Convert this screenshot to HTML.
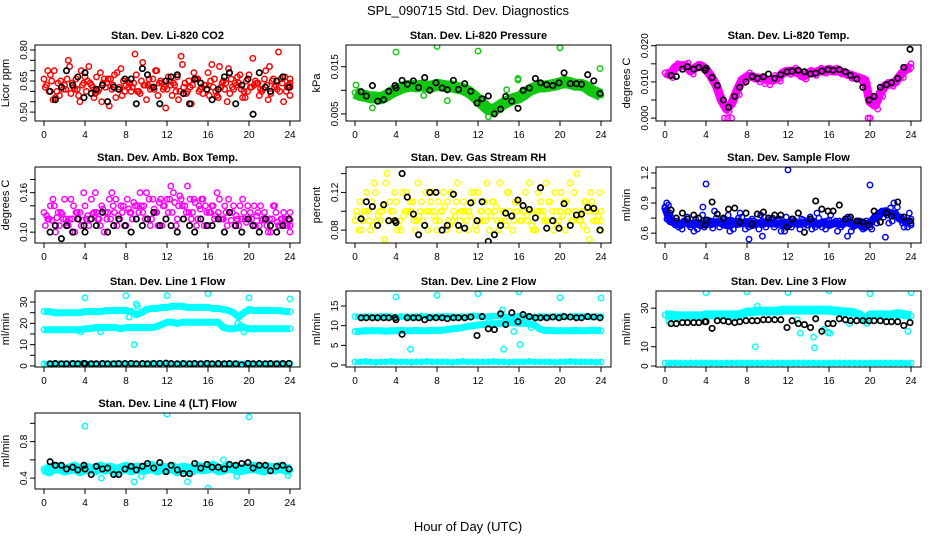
<!DOCTYPE html>
<html><head><meta charset="utf-8">
<style>
html,body{margin:0;padding:0;background:#fff;}
svg{display:block;font-family:"Liberation Sans",sans-serif;}
</style></head>
<body>
<svg id="chart" width="936" height="540" viewBox="0 0 936 540">
<text x="468" y="15" text-anchor="middle" font-size="13">SPL_090715  Std. Dev. Diagnostics</text>
<text x="468" y="531" text-anchor="middle" font-size="13">Hour of Day (UTC)</text>
</svg>
<script>
const xTicks=[0,4,8,12,16,20,24];
const bh=[0.6,1.1,1.7,2.2,2.8,3.3,3.9,4.0,4.6,5.1,5.7,6.2,6.8,7.3,7.9,8.5,9.0,9.6,10.1,10.7,11.3,11.9,12.4,13.0,13.6,14.2,14.7,15.3,15.9,16.4,17.0,17.6,18.1,18.7,19.3,19.9,20.4,21.0,21.6,22.1,22.7,23.3,23.9];
// P1 CO2
const co2A=[.66,.60,.70,.58,.63,.72,.61,.55,.67,.64,.59,.69,.62,.66,.57,.71,.63,.60,.68,.65,.56,.62,.70,.64,.61,.58,.67,.73,.60,.63,.66,.59,.69,.62,.57,.65,.71,.61,.64,.60,.68,.63,.58,.66,.72,.62,.60,.67,.64];
const co2B=[.62,.68,.57,.65,.61,.59,.66,.70,.60,.63,.67,.55,.64,.61,.69,.58,.65,.62,.60,.74,.63,.66,.58,.61,.67,.64,.56,.62,.65,.69,.60,.63,.58,.66,.72,.61,.59,.64,.68,.57,.62,.65,.61,.70,.59,.63,.66,.60,.62];
const co2C=[.70,.56,.64,.61,.75,.62,.58,.64,.72,.57,.61,.66,.53,.68,.62,.60,.64,.78,.59,.63,.61,.70,.65,.52,.63,.60,.77,.59,.54,.66,.62,.61,.73,.58,.64,.55,.62,.67,.57,.60,.76,.64,.61,.56,.66,.79,.55,.63,.58];
const co2D=[.63,.65,.60,.62,.66,.64,.61,.63,.65,.62,.60,.64,.66,.63,.61,.65,.62,.64,.60,.63,.66,.61,.64,.62,.65,.63,.60,.64,.62,.66,.61,.63,.65,.60,.62,.64,.66,.63,.61,.65,.62,.64,.60,.63,.65,.61,.64,.62,.66];
const co2Black=[.60,.56,.62,.70,.63,.67,.57,.69,.59,.61,.63,.55,.62,.61,.66,.66,.54,.71,.68,.62,.54,.65,.67,.68,.59,.54,.66,.64,.61,.56,.61,.67,.69,.54,.63,.66,.49,.69,.62,.60,.65,.67,.62];
// P2 pressure
const presTrend=[.0095,.0090,.0088,.0085,.0085,.0083,.0088,.0095,.0100,.0105,.0108,.0110,.0108,.0110,.0108,.0108,.0112,.0110,.0108,.0108,.0105,.0103,.0098,.0090,.0080,.0070,.0060,.0058,.0065,.0072,.0078,.0082,.0085,.0092,.0100,.0105,.0108,.0108,.0110,.0112,.0115,.0118,.0115,.0112,.0112,.0108,.0100,.0095,.0090];
const presOutX=[0.1,4.0,8.0,12.0,15.9,15.9,20.0,23.9,1.7,9.0,6.7,13.0,14.8];
const presOutY=[.0111,.0181,.0193,.0183,.0125,.0122,.0190,.0146,.0063,.0078,.0089,.0044,.0101];
const presBlack=[.0097,.0088,.0110,.0077,.0080,.0098,.0110,.0105,.0121,.0113,.0120,.0106,.0127,.0100,.0116,.0105,.0101,.0121,.0102,.0114,.0098,.0073,.0082,.0088,.0050,.0060,.0087,.0077,.0062,.0100,.0105,.0125,.0116,.0112,.0110,.0116,.0137,.0114,.0114,.0113,.0133,.0120,.0093];
// P3 temp
const tempTrend=[.0125,.0120,.0140,.0145,.0145,.0130,.0140,.0145,.0135,.0115,.0090,.0050,.0025,.0040,.0075,.0105,.0115,.0115,.0110,.0110,.0105,.0105,.0110,.0125,.0130,.0130,.0125,.0115,.0125,.0125,.0130,.0130,.0135,.0130,.0130,.0125,.0120,.0115,.0110,.0105,.0045,.0035,.0070,.0090,.0095,.0100,.0120,.0135,.0140];
const tempScatter=[.0120,.0112,.0150,.0135,.0152,.0122,.0148,.0138,.0128,.0105,.0080,.0040,.0018,.0050,.0065,.0098,.0125,.0108,.0100,.0095,.0092,.0118,.0102,.0132,.0121,.0138,.0115,.0108,.0132,.0118,.0138,.0124,.0128,.0138,.0122,.0118,.0110,.0108,.0100,.0096,.0055,.0025,.0060,.0098,.0088,.0108,.0112,.0142,.0150];
const tempOutX=[5.8,6.1,6.5,19.8,20.0];
const tempOutY=[0,0,0,0,0];
const tempBlack=[.0118,.0115,.0135,.0142,.0135,.0140,.0132,.0138,.0112,.0090,.0050,.0030,.0060,.0085,.0100,.0115,.0110,.0114,.0122,.0110,.0120,.0128,.0130,.0132,.0128,.0122,.0124,.0130,.0134,.0132,.0134,.0128,.0118,.0108,.0085,.0050,.0060,.0085,.0092,.0098,.0110,.0140,.0190];
// P4 amb box temp
const ambA=[.13,.12,.14,.11,.15,.12,.10,.13,.14,.12,.16,.11,.13,.12,.15,.14,.11,.13,.12,.14,.16,.12,.13,.11,.15,.13,.12,.14,.17,.13,.12,.15,.11,.14,.13,.12,.15,.14,.11,.13,.12,.14,.11,.13,.12,.14,.11,.12,.13];
const ambB=[.11,.14,.10,.13,.12,.15,.13,.11,.12,.15,.13,.14,.12,.16,.11,.13,.15,.12,.14,.13,.12,.15,.11,.14,.13,.16,.14,.12,.13,.15,.14,.11,.13,.12,.15,.14,.13,.11,.14,.12,.13,.11,.14,.12,.10,.13,.12,.11,.10];
const ambC=[.12,.15,.13,.12,.11,.14,.12,.16,.11,.13,.12,.10,.15,.13,.12,.11,.13,.14,.16,.12,.11,.13,.15,.12,.17,.11,.15,.13,.12,.11,.15,.13,.14,.16,.12,.11,.13,.12,.15,.14,.11,.13,.12,.10,.14,.11,.13,.12,.11];
const ambD=[.125,.118,.122,.128,.115,.12,.13,.118,.125,.128,.12,.135,.13,.14,.125,.14,.135,.145,.13,.14,.15,.135,.145,.14,.15,.145,.155,.14,.15,.145,.135,.14,.13,.125,.12,.13,.118,.125,.12,.115,.12,.125,.118,.11,.12,.115,.12,.11,.118];
const ambBlack=[.10,.11,.09,.11,.10,.12,.11,.10,.12,.11,.13,.10,.11,.12,.11,.10,.12,.11,.12,.13,.11,.12,.11,.10,.12,.11,.10,.12,.11,.11,.12,.10,.13,.11,.10,.12,.11,.10,.12,.11,.10,.11,.12];
// P5 RH
const rhA=[.09,.11,.10,.08,.12,.09,.13,.10,.11,.08,.12,.10,.09,.11,.10,.12,.08,.10,.11,.09,.13,.10,.08,.11,.12,.09,.10,.11,.08,.10,.12,.09,.11,.10,.13,.08,.10,.09,.11,.12,.10,.08,.13,.10,.09,.11,.12,.09,.10];
const rhB=[.10,.08,.12,.11,.09,.10,.14,.09,.08,.12,.10,.11,.13,.09,.08,.10,.11,.12,.09,.10,.08,.11,.10,.12,.09,.11,.08,.10,.13,.09,.10,.11,.09,.12,.10,.08,.11,.13,.09,.10,.12,.11,.09,.14,.10,.08,.11,.09,.08];
const rhC=[.08,.10,.09,.13,.10,.07,.11,.12,.09,.10,.11,.08,.10,.12,.11,.09,.10,.08,.12,.11,.10,.09,.12,.08,.10,.13,.11,.09,.10,.12,.08,.11,.10,.09,.08,.12,.10,.11,.08,.09,.11,.10,.12,.09,.11,.07,.10,.12,.09];
const rhD=[.095,.09,.1,.085,.095,.105,.09,.1,.085,.095,.1,.09,.095,.085,.1,.095,.09,.105,.085,.095,.09,.1,.095,.085,.1,.09,.095,.105,.09,.085,.095,.1,.09,.095,.085,.1,.095,.09,.1,.085,.095,.1,.09,.095,.085,.1,.09,.095,.1];
const rhBlack=[.092,.110,.105,.085,.107,.090,.090,.088,.140,.115,.097,.075,.085,.120,.120,.080,.085,.118,.085,.082,.109,.090,.110,.068,.075,.085,.098,.095,.112,.106,.102,.093,.125,.082,.090,.082,.108,.085,.096,.097,.104,.103,.080];
// P6 sample flow
const sfA=[.85,.80,.68,.70,.72,.66,.74,.70,.68,.72,.75,.70,.73,.68,.72,.76,.70,.74,.69,.72,.70,.75,.72,.68,.71,.74,.70,.73,.68,.72,.75,.70,.73,.69,.72,.70,.74,.68,.72,.70,.66,.74,.78,.82,.85,.80,.76,.72,.74];
const sfB=[.90,.75,.72,.64,.76,.70,.64,.78,.73,.65,.70,.68,.78,.64,.75,.70,.66,.72,.64,.76,.69,.66,.74,.62,.68,.72,.64,.70,.76,.66,.70,.64,.78,.72,.66,.74,.62,.70,.66,.72,.64,.70,.82,.78,.72,.86,.70,.66,.70];
const sfC=[.88,.70,.66,.72,.68,.62,.70,.66,.72,.82,.66,.74,.62,.70,.80,.64,.72,.68,.78,.66,.74,.70,.62,.76,.66,.70,.74,.68,.64,.80,.66,.72,.70,.62,.68,.76,.66,.72,.64,.70,.74,.80,.76,.70,.90,.74,.66,.80,.68];
const sfD=[.86,.72,.7,.68,.71,.69,.7,.68,.7,.69,.71,.7,.68,.72,.69,.7,.71,.68,.7,.69,.71,.7,.69,.7,.68,.71,.69,.7,.72,.7,.69,.71,.68,.7,.69,.71,.7,.68,.7,.66,.7,.76,.8,.82,.8,.78,.74,.72,.7];
const sfOutX=[4.0,12.0,20.0,8.2,9.5,17.8,21.5,0.2,3.7];
const sfOutY=[1.09,1.23,1.08,.54,.57,.57,.56,.74,.86];
const sfBlack=[.83,.75,.80,.74,.78,.75,.68,.73,.91,.79,.75,.84,.85,.71,.80,.69,.79,.81,.75,.78,.78,.66,.74,.80,.61,.74,.92,.84,.82,.82,.88,.74,.76,.72,.71,.68,.82,.71,.80,.77,.91,.76,.72];
// P7 line 1
const l1Upper=[25.5,25.5,25,25,25,25,25,25,25.5,25.5,25.5,25.5,26,26,26,26,26,25.5,24,25,26.5,27,27,27.5,27.5,28,28,28,27.5,27.5,27.5,27.5,27.5,27,27,26.5,26,25,23,25,26.5,26,26,26,26,26,26,25.5,25.5];
const l1Lower=[17,17,17,17,17,17,17,17,17.5,17.5,18,18,18,18,18,17.5,18,18,18,18,18,18,18.5,19.5,20.5,20.5,20,20.5,20.5,20.5,20.5,20.5,20.5,20.5,20.5,18,17.5,17.5,18,18,17.5,17.5,17.5,17.5,17.5,17.5,17.5,17.5,17.5];
const l1Zero=[1,1,1.1,1,0.9,1,1,1.1,1,1,1,0.9,1,1,1.1,1,1,1,1,0.9,1,1.1,1,1,1,1,1,1.1,1,1,0.9,1,1,1,1.1,1,1,1,1,0.9,1,1,1.1,1,1,1,1,0.9,1];
const l1OutX=[4,8,12,16,20,24,8.8,9.0,9.1,5.5,3.6,18.9,19.2,19.5,8.3,19.0];
const l1OutY=[32,33,33,34,32,31.5,10,29,28,16,16,20,19,16,23,23];
const l1Black=[1,1.1,1,1,1.1,1,1.2,1.1,1,1,1.1,1,1,1.1,1.1,1.2,1,1.1,1,1.1,1.2,1.3,1.1,1,1.1,1,1.1,1,1.2,1,1.1,1,1.1,1,0.5,1.2,1,1.1,1,1.1,1,1.1,1.2];
// P8 line 2
const l2Upper=[12.3,12.2,12.3,12.3,12.2,12.3,12.4,12.3,12.2,12.3,12.3,12.2,12.3,12.4,12.3,12.2,12.3,12.3,12.4,12.3,12.2,12.3,12.3,12.5,12.4,12.3,12.3,12.4,12.5,12.3,12.2,12.3,12.4,12.3,12.3,12.2,12.3,12.3,12.2,12.3,12.3,12.2,12.3,12.4,12.3,12.3,12.2,12.3,12.3];
const l2Mid=[8.5,8.6,8.7,8.7,8.7,8.7,8.6,8.7,8.7,8.8,8.7,8.7,8.8,8.7,8.7,8.8,8.8,8.8,9,9.2,9.3,9.5,9.8,10,10.2,10.3,10.4,10.5,10.5,10.6,10.7,10.7,10.6,10.6,10.5,10.2,9.2,8.8,8.8,8.7,8.7,8.7,8.7,8.8,8.7,8.7,8.8,8.8,8.7];
const l2Zero=[0.8,0.8,0.9,0.8,0.7,0.8,0.8,0.9,0.8,0.8,0.8,0.7,0.8,0.8,0.9,0.8,0.8,0.8,0.8,0.7,0.8,0.9,0.8,0.8,0.8,0.8,0.8,0.9,0.8,0.8,0.7,0.8,0.8,0.8,0.9,0.8,0.8,0.8,0.8,0.7,0.8,0.8,0.9,0.8,0.8,0.8,0.8,0.7,0.8];
const l2OutX=[4,8,12,16,20,24,5.4,14.5,14.4,16.1,13.1,15.5,17.2];
const l2OutY=[17.3,17.7,18.1,18.6,17.1,17,4,4,14,5.2,11,8.5,9.5];
const l2Black=[12,12,12,12,12,12,12,11.5,7.8,12,12,12,11.5,12,12,12,11.8,12,12,12,12.2,7.5,12.3,9.2,9.0,13,10.3,13.3,11,12.8,12.3,12,12,12,12.2,12,12.3,12.2,12,12,12.3,12.2,12];
// P9 line 3
const l3Upper=[26.5,26.5,26,26,26,26,26,26,26.5,26.5,26.5,26.5,26.5,26.5,26.5,27,28,28,28.5,28.5,28.5,28.5,28.5,29,29,29,29,29,29,29,29,29,29,28.5,28.5,28,28,27.5,26.5,24,26.5,26.5,26.5,26.5,26.5,27,27,26.5,26];
const l3Zero=[1.5,1.5,1.6,1.5,1.4,1.5,1.5,1.6,1.5,1.5,1.5,1.4,1.5,1.5,1.6,1.5,1.5,1.5,1.5,1.4,1.5,1.6,1.5,1.5,1.5,1.5,1.5,1.6,1.5,1.5,1.4,1.5,1.5,1.5,1.6,1.5,1.5,1.5,1.5,1.4,1.5,1.5,1.6,1.5,1.5,1.5,1.5,1.4,1.5];
const l3OutX=[4,8,12,16,20,24,8.8,9.0,14.5,14.6,13.2,15.9,16.1,18,23.7,15.5,12.9,0.4,19.7];
const l3OutY=[38,38.5,38,39,37.5,38,10,31,15,9.5,17,17.5,17,22,18,19,24,23,22];
const l3Black=[22,22,22.5,22.5,22.5,22.5,23,23,19.5,23.5,23.5,23,22.5,23,23.5,23.5,23.5,24,24,24,24,20,23.5,22,21.5,20,24.5,18,22,22,24.5,24,23.5,23.5,23.5,23.5,23.5,23.5,23,23,23,21,22.5];
// P10 line 4
const l4Band=[.50,.48,.52,.51,.49,.50,.52,.48,.51,.50,.49,.52,.50,.51,.48,.50,.52,.49,.51,.50,.50,.53,.49,.51,.50,.52,.48,.51,.50,.49,.52,.50,.51,.53,.49,.50,.52,.51,.49,.50,.51,.52,.50,.49,.51,.50,.52,.50,.49];
const l4OutX=[4,12,20,16,5.6,8.8,14,0.1,9.5,17.5,18.8,23.8];
const l4OutY=[.97,1.1,1.07,.29,.40,.36,.36,.48,.42,.60,.42,.43];
const l4Black=[.58,.54,.54,.50,.52,.49,.54,.50,.44,.53,.50,.51,.44,.44,.50,.53,.49,.53,.56,.51,.57,.47,.54,.49,.45,.45,.56,.51,.55,.52,.52,.50,.55,.54,.56,.57,.51,.54,.54,.48,.53,.54,.50];

const RED='#ff0000',GRN='#10c810',MAG='#ff00ff',YEL='#ffff00',BLU='#0000ff',CYN='#00ffff',BLK='#000000';
const panels=[
 {name:'co2',title:'Stan. Dev. Li-820 CO2',ylab:'Licor ppm',col:0,row:0,ymin:0.457,ymax:0.824,
  ticks:[.50,.55,.60,.65,.70,.75,.80],labels:{'0.5':'0.50','0.65':'0.65','0.8':'0.80'},
  series:[{y:co2D,c:RED,off:0.5},{y:co2A,c:RED},{y:co2B,c:RED,off:0.25},{y:co2C,c:RED,off:0.75},{x:bh,y:co2Black,c:BLK}]},
 {name:'pressure',title:'Stan. Dev. Li-820 Pressure',ylab:'kPa',col:1,row:0,ymin:0.0035,ymax:0.0196,
  ticks:[.005,.010,.015],labels:{'0.005':'0.005','0.015':'0.015'},
  series:[{y:presTrend,c:GRN,band:12},{x:presOutX,y:presOutY,c:GRN},{x:bh,y:presBlack,c:BLK}]},
 {name:'temp',title:'Stan. Dev. Li-820 Temp.',ylab:'degrees C',col:2,row:0,ymin:-0.0008,ymax:0.0202,
  ticks:[0,.005,.010,.015,.020],labels:{'0':'0.000','0.01':'0.010','0.02':'0.020'},
  series:[{y:tempTrend,c:MAG,band:9},{y:tempScatter,c:MAG,off:0.5},{x:tempOutX,y:tempOutY,c:MAG},{x:bh,y:tempBlack,c:BLK}]},
 {name:'amb-box-temp',title:'Stan. Dev. Amb. Box Temp.',ylab:'degrees C',col:0,row:1,ymin:0.0835,ymax:0.199,
  ticks:[.10,.12,.14,.16,.18],labels:{'0.1':'0.10','0.16':'0.16'},
  series:[{y:ambD,c:MAG,off:0.5},{y:ambA,c:MAG},{y:ambB,c:MAG,off:0.25},{y:ambC,c:MAG,off:0.75},{x:bh,y:ambBlack,c:BLK}]},
 {name:'gas-stream-rh',title:'Stan. Dev. Gas Stream RH',ylab:'percent',col:1,row:1,ymin:0.0663,ymax:0.147,
  ticks:[.08,.10,.12,.14],labels:{'0.08':'0.08','0.12':'0.12'},
  series:[{y:rhD,c:YEL,off:0.5},{y:rhA,c:YEL},{y:rhB,c:YEL,off:0.25},{y:rhC,c:YEL,off:0.75},{x:bh,y:rhBlack,c:BLK}]},
 {name:'sample-flow',title:'Stan. Dev. Sample Flow',ylab:'ml/min',col:2,row:1,ymin:0.502,ymax:1.259,
  ticks:[.6,.75,.9,1.05,1.2],labels:{'0.6':'0.6','0.9':'0.9','1.2':'1.2'},
  series:[{y:sfD,c:BLU,band:8},{y:sfA,c:BLU},{y:sfB,c:BLU,off:0.33},{y:sfC,c:BLU,off:0.66},{x:sfOutX,y:sfOutY,c:BLU},{x:bh,y:sfBlack,c:BLK}]},
 {name:'line1-flow',title:'Stan. Dev. Line 1 Flow',ylab:'ml/min',col:0,row:2,ymin:-0.5,ymax:35.2,
  ticks:[0,5,10,15,20,25,30],labels:{'0':'0','10':'10','20':'20','30':'30'},
  series:[{y:l1Upper,c:CYN,band:7},{y:l1Lower,c:CYN,band:7},{y:l1Zero,c:CYN,band:5},{x:l1OutX,y:l1OutY,c:CYN},{x:bh,y:l1Black,c:BLK}]},
 {name:'line2-flow',title:'Stan. Dev. Line 2 Flow',ylab:'ml/min',col:1,row:2,ymin:-0.5,ymax:18.8,
  ticks:[0,5,10,15],labels:{'0':'0','5':'5','10':'10','15':'15'},
  series:[{y:l2Upper,c:CYN,band:6},{y:l2Mid,c:CYN,band:7},{y:l2Zero,c:CYN,band:5},{x:l2OutX,y:l2OutY,c:CYN},{x:bh,y:l2Black,c:BLK}]},
 {name:'line3-flow',title:'Stan. Dev. Line 3 Flow',ylab:'ml/min',col:2,row:2,ymin:-0.5,ymax:38.9,
  ticks:[0,10,20,30],labels:{'0':'0','10':'10','30':'30'},
  series:[{y:l3Upper,c:CYN,band:9},{y:l3Zero,c:CYN,band:5},{x:l3OutX,y:l3OutY,c:CYN},{x:bh,y:l3Black,c:BLK}]},
 {name:'line4-flow',title:'Stan. Dev. Line 4 (LT) Flow',ylab:'ml/min',col:0,row:3,ymin:0.281,ymax:1.113,
  ticks:[.4,.6,.8,1.0],labels:{'0.4':'0.4','0.8':'0.8'},
  series:[{y:l4Band,c:CYN,band:11},{x:l4OutX,y:l4OutY,c:CYN},{x:bh,y:l4Black,c:BLK}]}
];
const COLX=[35,346,656], ROWY=[45,167,291,413], BW=265, BH=76;
const NS='http://www.w3.org/2000/svg';
const svg=document.getElementById('chart');
function mk(tag,attrs,parent){const e=document.createElementNS(NS,tag);for(const k in attrs)e.setAttribute(k,attrs[k]);parent.appendChild(e);return e;}

panels.forEach(p=>{
  const L=COLX[p.col], T=ROWY[p.row];
  const xs=h=>L+9+h/24*(BW-19);
  const ys=v=>T+BH-(v-p.ymin)/(p.ymax-p.ymin)*BH;
  const g=mk('g',{},svg);
  
  
  const clipId='clip-'+p.name;
  const cp=mk('clipPath',{id:clipId},g);
  mk('rect',{x:L,y:T,width:BW,height:BH},cp);
  const t=mk('text',{x:L+BW/2,y:T-6,'text-anchor':'middle','font-size':11,'font-weight':'bold'},g);
  t.textContent=p.title;
  
  
  const yl=mk('text',{x:0,y:0,'text-anchor':'middle','font-size':11,transform:`translate(${L-26},${T+BH/2}) rotate(-90)`},g);
  yl.textContent=p.ylab;
  
  
  const marks=mk('g',{'clip-path':`url(#${clipId})`},g);
  
  
  p.series.forEach((s,si)=>{
    const n=s.y.length;
    const off=s.off||0;
    const hx=i=> s.x? s.x[i] : Math.min(24,(i+off)*24/(n-1));
    if(s.band){
      const pts=s.y.map((v,i)=>xs(hx(i)).toFixed(1)+','+ys(v).toFixed(1)).join(' ');
      const pl=mk('polyline',{points:pts,fill:'none',stroke:s.c,'stroke-width':s.band,'stroke-linejoin':'round','stroke-linecap':'butt'},marks);
      
      
    }
    s.y.forEach((v,i)=>{
      const c=mk('circle',{cx:xs(hx(i)).toFixed(1),cy:ys(v).toFixed(1),r:2.7,fill:'none',stroke:s.c,'stroke-width':s.c===BLK?1.7:1.5},marks);
      
      
    });
  });
  const box=mk('rect',{x:L,y:T,width:BW,height:BH,fill:'none',stroke:'#000','stroke-width':1},g);
  
  
  xTicks.forEach(h=>{
    const x=xs(h);
    mk('line',{x1:x,y1:T+BH,x2:x,y2:T+BH+5,stroke:'#000'},g);
    const lt=mk('text',{x:x,y:T+BH+17,'text-anchor':'middle','font-size':10},g);
    lt.textContent=String(h);
    
    
  });
  p.ticks.forEach(v=>{
    const y=ys(v);
    mk('line',{x1:L-5,y1:y,x2:L,y2:y,stroke:'#000'},g);
    const key=String(+v.toFixed(4));
    if(p.labels[key]!==undefined){
      const lt=mk('text',{x:0,y:0,'text-anchor':'middle','font-size':10,transform:`translate(${L-8},${y}) rotate(-90)`},g);
      lt.textContent=p.labels[key];
      
      
    }
  });
});
</script>
</body></html>
